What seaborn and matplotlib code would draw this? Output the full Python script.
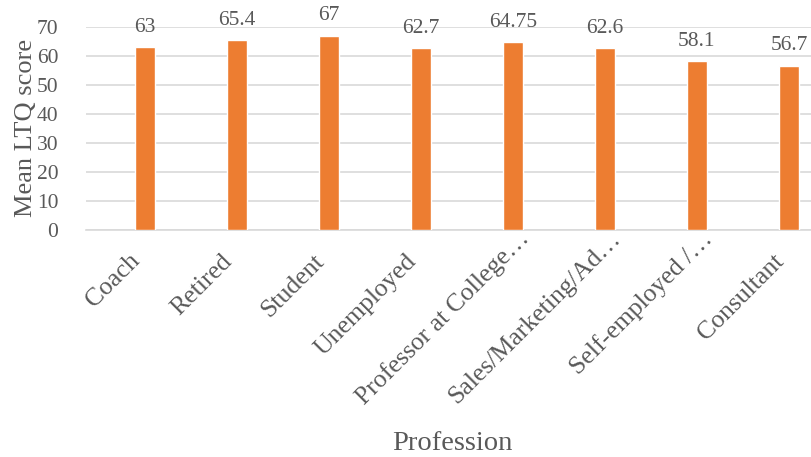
import matplotlib
matplotlib.use("Agg")
import matplotlib.pyplot as plt
import matplotlib.transforms as mtransforms
import seaborn as sns
import pandas as pd

# data
professions = ["Coach", "Retired", "Student", "Unemployed",
               "Professor at College\u2026", "Sales/Marketing/Ad\u2026",
               "Self-employed /\u2026", "Consultant"]
mean_ltq = [63, 65.4, 67, 62.7, 64.75, 62.6, 58.1, 56.7]
value_labels = ["63", "65.4", "67", "62.7", "64.75", "62.6", "58.1", "56.7"]

df = pd.DataFrame({"Profession": professions, "Mean LTQ score": mean_ltq})

sns.set_theme(style="white")
plt.rcParams["font.family"] = ["Liberation Serif", "DejaVu Serif"]
grey = "#595959"

fig = plt.figure(figsize=(8.11, 4.57), dpi=100)
ax = fig.add_axes([0.106, 0.497, 0.894, 0.444])

sns.barplot(data=df, x="Profession", y="Mean LTQ score", color="#ED7D31",
            width=0.22, saturation=1, ax=ax, zorder=3)

for i, (v, lab) in enumerate(zip(mean_ltq, value_labels)):
    ax.annotate(lab, (i, v), xytext=(0, 11), textcoords="offset points",
                ha="center", va="baseline", fontsize=15.5, color=grey)

ax.set_ylim(0, 70)
ax.set_yticks(range(0, 71, 10))
ax.set_xlim(-0.64, 7.24)
ax.grid(axis="y", color="#d9d9d9", linewidth=1.2, zorder=0)
for s in ["top", "right", "left"]:
    ax.spines[s].set_visible(False)
ax.spines["bottom"].set_color("#d9d9d9")
ax.spines["bottom"].set_linewidth(1.2)

ax.tick_params(axis="both", length=0, colors=grey)
ax.tick_params(axis="y", labelsize=15.5, pad=20)
ax.tick_params(axis="x", labelsize=18.5, pad=20)
# labels end a bit left of the bar; truncated ones sit higher/right
shift = mtransforms.ScaledTranslation(-6 / 72, 0, fig.dpi_scale_trans)
shift_trunc = mtransforms.ScaledTranslation(9 / 72, 16 / 72, fig.dpi_scale_trans)
for t in ax.get_xticklabels():
    t.set_rotation(45)
    t.set_ha("right")
    t.set_va("center")
    t.set_rotation_mode("anchor")
    if t.get_text().endswith("\u2026"):
        t.set_transform(t.get_transform() + shift_trunc)
    else:
        t.set_transform(t.get_transform() + shift)

ax.set_ylabel("Mean LTQ score", fontsize=19, color=grey, labelpad=0)
ax.set_xlabel("Profession", fontsize=20.5, color=grey)
ax.xaxis.set_label_coords(0.505, -0.99)

fig.savefig("out.png", dpi=100)
